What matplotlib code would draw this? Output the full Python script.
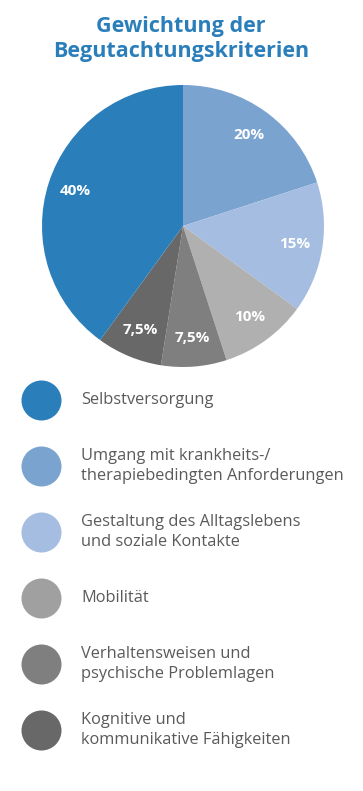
import numpy as np
import matplotlib
matplotlib.use('Agg')
import matplotlib.pyplot as plt

# data
categories = ['Selbstversorgung',
              'Umgang mit krankheits-/\ntherapiebedingten Anforderungen',
              'Gestaltung des Alltagslebens\nund soziale Kontakte',
              'Mobilität',
              'Verhaltensweisen und\npsychische Problemlagen',
              'Kognitive und\nkommunikative Fähigkeiten']
shares = [40, 20, 15, 10, 7.5, 7.5]
pct_labels = ['40%', '20%', '15%', '10%', '7,5%', '7,5%']
colors = ['#2a7fbb', '#7aa3cf', '#a4bde0', '#b0b0b0', '#7f7f7f', '#686868']
legend_colors = ['#2a7fbb', '#7aa3cf', '#a4bde0', '#a0a0a0', '#7f7f7f', '#686868']

W, H = 363, 791
plt.rcParams['font.family'] = ['Open Sans', 'DejaVu Sans']
fig = plt.figure(figsize=(W / 100, H / 100), dpi=100)

# overlay axes in pixel coords for title + legend
bg = fig.add_axes([0, 0, 1, 1])
bg.set_xlim(0, W)
bg.set_ylim(H, 0)
bg.axis('off')

bg.text(181, 39, 'Gewichtung der\nBegutachtungskriterien', ha='center', va='center',
        fontsize=15.5, fontweight='bold', color='#2a7fbb', linespacing=1.25)

# pie: center (183, 226) px, radius 141 px
cx, cy, r = 183, 226, 141
ax = fig.add_axes([(cx - r) / W, (H - cy - r) / H, 2 * r / W, 2 * r / H])
# clockwise from top: 20, 15, 10, 7.5, 7.5, 40
order = [1, 2, 3, 4, 5, 0]
wedges, texts = ax.pie([shares[i] for i in order], colors=[colors[i] for i in order],
                       labels=[pct_labels[i] for i in order], labeldistance=0.8,
                       startangle=90, counterclock=False, radius=1,
                       wedgeprops=dict(linewidth=0),
                       textprops=dict(color='white', fontsize=11, fontweight='bold'))
for t in texts:
    t.set_ha('center')
    t.set_va('center')
ax.set_xlim(-1, 1)
ax.set_ylim(-1, 1)
ax.set_aspect('equal')
ax.axis('off')

# legend
y0, dy = 400, 66
for i, (lab, c) in enumerate(zip(categories, legend_colors)):
    y = y0 + i * dy
    bg.scatter([41], [y], s=830, color=c, linewidths=0)
    bg.text(81, y, lab, ha='left', va='center', fontsize=11.8, color='#5a5a5a',
            linespacing=1.35)

fig.savefig('out.png', dpi=100)
